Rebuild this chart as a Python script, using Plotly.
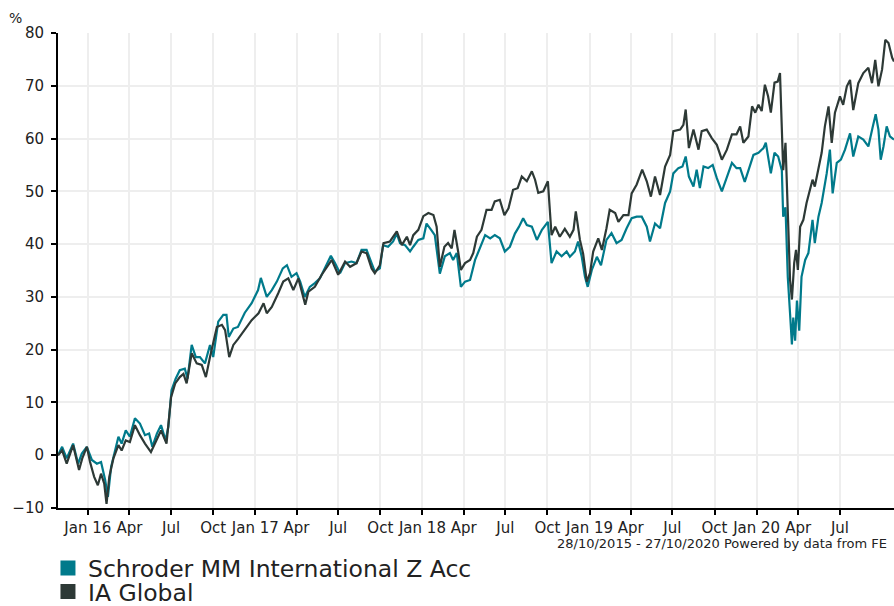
import pandas as pd
import plotly.graph_objects as go

start_date = "2015-10-28"
end_date = "2020-10-27"

fund_name = "Schroder MM International Z Acc"
sector_name = "IA Global"
period_note = "28/10/2015 - 27/10/2020 Powered by data from FE"

# days since start date, cumulative % performance
fund_days = [0, 9, 19, 33, 44, 52, 63, 74, 85, 94, 103, 109, 116, 125, 132, 139, 148, 157,
             168, 179, 190, 199, 206, 216, 225, 235, 241, 248, 257, 266, 277, 283, 292, 301,
             310, 321, 332, 339, 350, 361, 368, 373, 383, 393, 408, 423, 437, 443, 456, 467,
             478, 491, 500, 510, 521, 529, 539, 550, 561, 572, 583, 596, 605, 616, 627, 641,
             652, 663, 674, 685, 692, 703, 710, 721, 732, 740, 747, 758, 769, 776, 787, 798,
             805, 815, 823, 834, 845, 856, 863, 871, 880, 889, 900, 911, 922, 933, 944, 954,
             965, 976, 987, 998, 1007, 1016, 1024, 1035, 1046, 1057, 1070, 1078, 1089, 1100,
             1111, 1118, 1129, 1136, 1144, 1151, 1157, 1166, 1177, 1186, 1198, 1209, 1220,
             1231, 1242, 1253, 1264, 1275, 1286, 1293, 1304, 1315, 1326, 1337, 1344, 1355,
             1364, 1371, 1378, 1388, 1395, 1402, 1410, 1420, 1430, 1439, 1450, 1461, 1472,
             1482, 1490, 1500, 1511, 1519, 1530, 1541, 1546, 1551, 1557, 1565, 1573, 1581,
             1584, 1589, 1594, 1599, 1603, 1606, 1610, 1614, 1619, 1624, 1632, 1639, 1648,
             1653, 1661, 1668, 1679, 1686, 1692, 1701, 1710, 1719, 1730, 1737, 1748, 1759,
             1770, 1779, 1786, 1792, 1797, 1803, 1810, 1817, 1826]
fund_values = [0, 1.6, -0.6, 2.2, -1.6, 0.3, 1.6, -0.9, -1.6, -1.3, -4.7, -7.9, -2.2, 0.9,
               3.5, 2.2, 4.7, 3.5, 7.0, 6.0, 3.8, 4.1, 1.6, 4.1, 5.7, 2.8, 5.4, 12.3, 14.5,
               16.1, 16.4, 14.5, 20.9, 18.6, 18.6, 17.4, 20.9, 18.6, 25.3, 26.6, 26.6, 22.4,
               24.0, 24.3, 27.0, 28.8, 31.3, 33.6, 30.0, 31.3, 32.9, 35.4, 36.0, 33.8, 34.5,
               32.9, 30.0, 31.9, 32.6, 33.5, 35.4, 37.8, 36.4, 34.5, 36.4, 36.7, 36.4, 38.9,
               38.9, 36.4, 34.8, 35.4, 39.8, 39.5, 40.5, 42.0, 40.2, 39.8, 38.6, 39.5, 40.8,
               41.1, 43.9, 42.7, 41.7, 34.4, 37.7, 38.3, 37.0, 38.3, 31.9, 32.9, 33.2, 37.0,
               39.5, 41.7, 41.1, 41.7, 41.1, 38.6, 39.5, 42.0, 43.3, 44.9, 43.6, 43.3, 40.8,
               42.7, 44.2, 36.4, 38.6, 37.7, 38.6, 37.6, 38.6, 40.5, 37.6, 33.8, 31.9, 35.1,
               37.6, 36.0, 40.8, 42.1, 40.2, 40.8, 43.0, 44.9, 45.2, 45.2, 43.3, 40.5, 43.9,
               43.0, 47.8, 50.0, 53.4, 54.4, 54.7, 56.6, 52.8, 50.9, 54.1, 50.6, 54.7, 54.4,
               55.0, 52.5, 50.0, 52.5, 55.4, 54.4, 54.4, 51.8, 55.0, 56.9, 57.3, 58.2, 59.2,
               56.9, 53.4, 57.3, 56.6, 54.0, 45.2, 47.0, 33.8, 26.8, 21.0, 26.1, 21.7, 29.3,
               23.6, 33.8, 37.0, 38.3, 44.6, 40.2, 45.2, 47.8, 53.4, 57.9, 49.6, 55.4, 56.0,
               57.9, 61.0, 56.6, 60.4, 59.8, 58.5, 62.0, 64.6, 61.7, 56.0, 58.5, 62.3, 60.4,
               59.8]

sector_days = [0, 9, 19, 33, 46, 53, 63, 70, 79, 87, 94, 101, 106, 112, 121, 132, 139, 148,
               157, 168, 179, 190, 203, 216, 225, 237, 247, 256, 266, 274, 281, 292, 303, 314,
               323, 332, 347, 358, 365, 374, 383, 393, 408, 423, 438, 449, 456, 467, 481, 492,
               503, 514, 525, 540, 547, 561, 576, 590, 598, 612, 627, 638, 652, 663, 674, 685,
               692, 703, 711, 725, 740, 751, 762, 769, 776, 787, 798, 809, 820, 827, 834, 844,
               852, 860, 866, 874, 880, 889, 900, 907, 915, 925, 936, 947, 954, 965, 975, 984,
               994, 1004, 1013, 1024, 1035, 1042, 1049, 1060, 1070, 1078, 1086, 1096, 1107,
               1118, 1126, 1131, 1140, 1147, 1155, 1162, 1169, 1180, 1188, 1198, 1205, 1217,
               1224, 1235, 1246, 1253, 1264, 1276, 1286, 1295, 1304, 1315, 1326, 1337, 1344,
               1359, 1366, 1371, 1378, 1388, 1399, 1406, 1417, 1428, 1439, 1450, 1461, 1472,
               1482, 1490, 1497, 1508, 1516, 1523, 1530, 1537, 1544, 1551, 1557, 1565, 1572,
               1577, 1581, 1584, 1589, 1594, 1599, 1603, 1608, 1612, 1616, 1621, 1628, 1635,
               1643, 1648, 1653, 1661, 1668, 1675, 1683, 1690, 1697, 1708, 1715, 1723, 1730,
               1737, 1748, 1759, 1770, 1778, 1785, 1792, 1800, 1807, 1814, 1822, 1826]
sector_values = [0, 0.9, -1.6, 1.9, -2.8, -0.6, 1.6, -1.3, -4.1, -5.7, -3.5, -5.4, -9.2,
                 -4.1, -0.6, 1.9, 0.9, 2.8, 2.5, 5.7, 3.8, 2.2, 0.6, 3.2, 4.7, 2.2, 11.0, 13.6,
                 14.8, 15.4, 13.6, 19.3, 17.4, 17.1, 14.8, 18.6, 24.3, 24.7, 23.7, 18.6, 20.9,
                 22.0, 23.7, 25.6, 26.9, 28.8, 26.9, 28.1, 30.7, 32.9, 33.5, 31.3, 33.5, 28.5,
                 31.0, 31.9, 34.2, 36.0, 37.0, 34.2, 36.7, 35.7, 36.4, 38.6, 38.3, 35.4, 34.5,
                 36.0, 40.2, 40.5, 42.4, 39.8, 41.4, 39.8, 41.7, 42.7, 45.3, 45.9, 45.5, 43.3,
                 35.7, 39.5, 40.2, 39.2, 42.7, 38.6, 35.1, 36.4, 37.0, 38.3, 41.4, 42.7, 46.5,
                 46.5, 48.1, 48.4, 45.5, 46.8, 50.3, 50.6, 52.8, 51.9, 53.8, 52.2, 49.7, 50.0,
                 51.9, 41.7, 43.3, 41.4, 42.9, 41.4, 42.7, 46.2, 40.8, 38.2, 32.9, 34.5, 38.6,
                 41.1, 38.9, 43.0, 46.5, 45.9, 44.2, 45.5, 45.5, 49.6, 51.3, 54.1, 51.9, 49.0,
                 52.8, 49.3, 54.7, 56.9, 61.4, 61.7, 62.6, 65.5, 58.2, 61.7, 57.9, 61.4, 61.7,
                 60.1, 58.8, 56.0, 57.9, 60.8, 60.8, 62.3, 59.2, 60.4, 66.1, 64.9, 66.4, 65.2,
                 70.2, 68.0, 64.9, 70.6, 70.8, 72.4, 60.4, 54.0, 59.2, 45.2, 33.2, 29.5, 36.4,
                 38.9, 35.1, 43.3, 44.6, 47.8, 50.3, 52.2, 50.9, 54.0, 57.3, 62.3, 66.1, 59.2,
                 64.9, 68.0, 66.4, 69.9, 71.1, 65.4, 70.5, 72.4, 73.4, 70.5, 74.9, 69.9, 73.1,
                 78.7, 78.1, 75.3, 74.6]

tick_dates = ["2016-01-01", "2016-04-01", "2016-07-01", "2016-10-01",
              "2017-01-01", "2017-04-01", "2017-07-01", "2017-10-01",
              "2018-01-01", "2018-04-01", "2018-07-01", "2018-10-01",
              "2019-01-01", "2019-04-01", "2019-07-01", "2019-10-01",
              "2020-01-01", "2020-04-01", "2020-07-01"]
tick_labels = ["Jan 16", "Apr", "Jul", "Oct", "Jan 17", "Apr", "Jul", "Oct",
               "Jan 18", "Apr", "Jul", "Oct", "Jan 19", "Apr", "Jul", "Oct",
               "Jan 20", "Apr", "Jul"]
y_ticks = [-10, 0, 10, 20, 30, 40, 50, 60, 70, 80]

fund_color = "#007A8B"
sector_color = "#2D3936"
FONT = "DejaVu Sans, Verdana, sans-serif"

start = pd.Timestamp(start_date)
fund_dates = start + pd.to_timedelta(fund_days, unit="D")
sector_dates = start + pd.to_timedelta(sector_days, unit="D")

fig = go.Figure()
fig.add_trace(go.Scatter(x=fund_dates, y=fund_values, mode="lines",
                         line=dict(color=fund_color, width=2.2), showlegend=False))
fig.add_trace(go.Scatter(x=sector_dates, y=sector_values, mode="lines",
                         line=dict(color=sector_color, width=2.2), showlegend=False))
# legend keys (square swatches)
fig.add_trace(go.Scatter(x=[None], y=[None], mode="markers", name=fund_name,
                         marker=dict(symbol="square", size=15, color=fund_color),
                         legend="legend"))
fig.add_trace(go.Scatter(x=[None], y=[None], mode="markers", name=sector_name,
                         marker=dict(symbol="square", size=15, color=sector_color),
                         legend="legend2"))

legend_common = dict(font=dict(family=FONT, size=23.5, color="#222222"),
                     bgcolor="rgba(0,0,0,0)", xanchor="left", yanchor="middle",
                     borderwidth=0)
fig.update_layout(
    width=894, height=606,
    margin=dict(l=58, r=0, t=33, b=98, autoexpand=False),
    paper_bgcolor="white", plot_bgcolor="white",
    font=dict(family=FONT, color="#222222"),
    legend=dict(x=-0.012, y=-0.127, **legend_common),
    legend2=dict(x=-0.012, y=-0.176, **legend_common),
    xaxis=dict(type="date", range=[start_date, end_date],
               tickvals=tick_dates, ticktext=tick_labels,
               showgrid=True, gridcolor="#EEEEEE", gridwidth=2,
               showline=True, linecolor="black", linewidth=2,
               ticks="outside", ticklen=5, tickwidth=2, tickcolor="black",
               tickfont=dict(family=FONT, size=15, color="#222222"),
               zeroline=False, fixedrange=True),
    yaxis=dict(range=[-10, 80], tickvals=y_ticks,
               showgrid=True, gridcolor="#EEEEEE", gridwidth=2,
               showline=True, linecolor="black", linewidth=2,
               ticks="outside", ticklen=5, tickwidth=2, tickcolor="black",
               tickfont=dict(family=FONT, size=15, color="#222222"),
               ticklabelstandoff=4,
               zeroline=False, fixedrange=True),
    annotations=[
        dict(text="%", xref="paper", yref="paper", x=-0.0514, y=1.031,
             xanchor="center", yanchor="middle", showarrow=False,
             font=dict(family=FONT, size=14, color="#222222")),
        dict(text=period_note, xref="paper", yref="paper", x=0.994, y=-0.0745,
             xanchor="right", yanchor="middle", showarrow=False,
             font=dict(family=FONT, size=13, color="#222222")),
    ],
)

fig.write_html("out.html", config={"displayModeBar": False},
               post_script="document.body.style.margin='0px';")
